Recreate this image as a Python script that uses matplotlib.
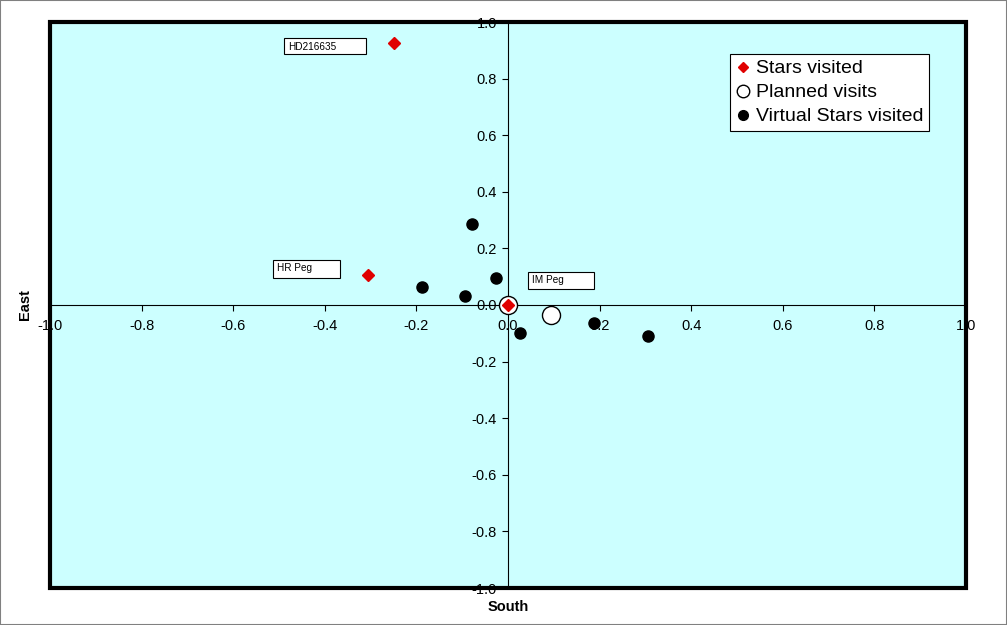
import matplotlib

matplotlib.use("Agg")
import matplotlib.pyplot as plt
from matplotlib.lines import Line2D
from matplotlib.patches import Rectangle

plt.rcParams["font.family"] = ["Liberation Sans", "DejaVu Sans"]
plt.rcParams["axes.unicode_minus"] = False

# data (South, East)
visited_x = [-0.250, -0.305, 0.0]
visited_y = [0.927, 0.105, 0.0]

planned_x = [0.0, 0.093]
planned_y = [0.0, -0.035]

virtual_x = [-0.079, -0.188, -0.094, -0.027, 0.026, 0.188, 0.306]
virtual_y = [0.287, 0.064, 0.033, 0.097, -0.098, -0.065, -0.110]

# star label boxes: (text, x0, x1, y0, y1) in data units
star_labels = [
    ("HD216635", -0.489, -0.310, 0.887, 0.943),
    ("HR Peg", -0.513, -0.367, 0.095, 0.159),
    ("IM Peg", 0.044, 0.188, 0.057, 0.117),
]

ticks = [-1.0, -0.8, -0.6, -0.4, -0.2, 0.0, 0.2, 0.4, 0.6, 0.8, 1.0]

fig = plt.figure(figsize=(10.07, 6.25), dpi=100)
ax = fig.add_axes([0.0497, 0.0592, 0.9096, 0.9056])
ax.set_facecolor("#ccffff")

ax.plot(planned_x, planned_y, "o", ms=13, mfc="white", mec="black", mew=1.0, ls="none", zorder=3)
ax.plot(virtual_x, virtual_y, "o", ms=8, color="black", ls="none", zorder=4)
ax.plot(visited_x, visited_y, "D", ms=6.5, color="#e00000", mec="#e00000", ls="none", zorder=5)

for text, x0, x1, y0, y1 in star_labels:
    ax.add_patch(Rectangle((x0, y0), x1 - x0, y1 - y0, fc="white", ec="black", lw=0.8, zorder=6))
    ax.annotate(text, (x0, y1), xytext=(3, -2.5), textcoords="offset points",
                fontsize=7.2, ha="left", va="top", zorder=7)

ax.set_xlim(-1, 1)
ax.set_ylim(-1, 1)
ax.set_xticks(ticks)
ax.set_yticks(ticks)
ax.set_xticklabels([f"{t:.1f}" for t in ticks])
ax.set_yticklabels([f"{t:.1f}" for t in ticks])
ax.tick_params(direction="out", length=4, width=0.8, labelsize=10.5, pad=4)
ax.tick_params(axis="x", pad=6)

for side in ("left", "bottom"):
    ax.spines[side].set_position("zero")
    ax.spines[side].set_linewidth(0.8)
for side in ("top", "right"):
    ax.spines[side].set_visible(False)
ax.add_patch(Rectangle((0, 0), 1, 1, transform=ax.transAxes, fill=False,
                       ec="black", lw=3, clip_on=False, zorder=10))

fig.text(0.5045, 0.029, "South", fontsize=10.5, fontweight="bold", ha="center", va="center")
fig.text(0.025, 0.512, "East", fontsize=10.5, fontweight="bold", ha="center", va="center",
         rotation=90)

handles = [
    Line2D([], [], marker="D", ls="none", ms=5, color="#e00000"),
    Line2D([], [], marker="o", ls="none", ms=9, mfc="white", mec="black", mew=1.0),
    Line2D([], [], marker="o", ls="none", ms=7, color="black"),
]
leg = ax.legend(handles, ["Stars visited", "Planned visits", "Virtual Stars visited"],
                loc="upper right", bbox_to_anchor=(0.9596, 0.9435), borderaxespad=0,
                fontsize=14, fancybox=False, framealpha=1, edgecolor="black",
                handlelength=0.7, handletextpad=0.3, labelspacing=0.33, borderpad=0.3)
leg.get_frame().set_linewidth(0.8)
leg.set_zorder(11)

fig.add_artist(Rectangle((0, 0), 1, 1, transform=fig.transFigure, fill=False,
                         ec="#808080", lw=1.5))

fig.savefig("out.png", dpi=100)
